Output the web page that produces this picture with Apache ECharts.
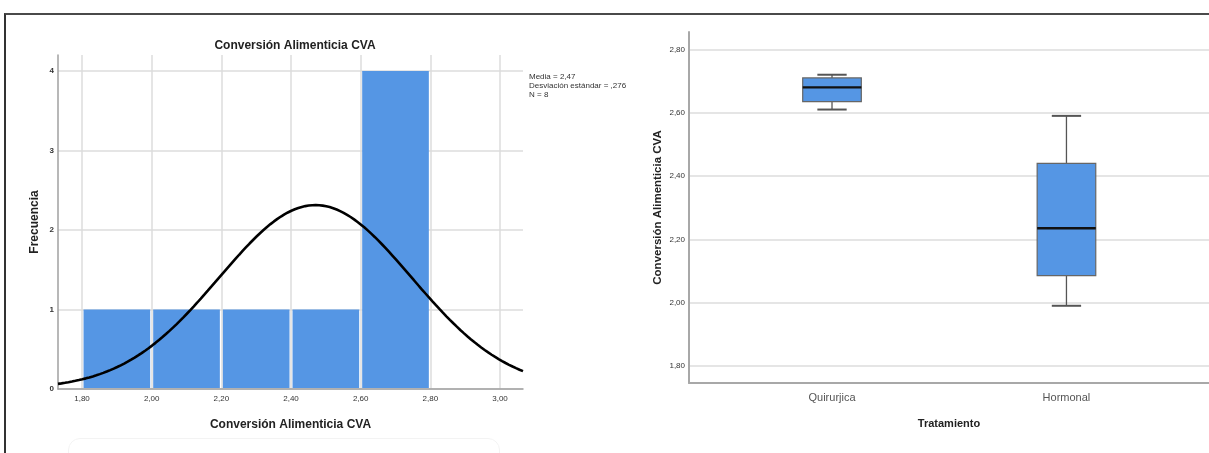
<!DOCTYPE html>
<html>
<head>
<meta charset="utf-8">
<script src="https://cdn.jsdelivr.net/npm/echarts@6/dist/echarts.min.js"></script>
<style>
  html, body { margin: 0; padding: 0; background: #fff; }
  #chart { position: absolute; left: 0; top: 0; width: 1209px; height: 453px; }
  #frame { position: absolute; left: 4px; top: 13px; width: 1210px; height: 450px;
           border-top: 2px solid #4a4a4a; border-left: 2px solid #333; pointer-events: none; }
  #card { position: absolute; left: 68px; top: 438px; width: 430px; height: 40px;
          border: 1px solid #f3f3f3; border-radius: 12px; pointer-events: none; }
</style>
</head>
<body>
<div id="chart"></div>
<div id="frame"></div>
<div id="card"></div>
<script>
// Histogram: bins of Conversión Alimenticia CVA
const binStarts = [1.80, 2.00, 2.20, 2.40, 2.60];
const binWidth = 0.20;
const frequencies = [1, 1, 1, 1, 4];
const histXTicks = [1.80, 2.00, 2.20, 2.40, 2.60, 2.80, 3.00];
const histYTicks = [0, 1, 2, 3, 4];

// Summary statistics printed beside the histogram
const media = 2.47;
const desviacion = 0.276;
const n = 8;

// Box plot by treatment
const categories = ['Quirurjica', 'Hormonal'];
const mins    = [2.61, 1.99];
const q1s     = [2.635, 2.085];
const medians = [2.68, 2.235];
const q3s     = [2.71, 2.44];
const maxs    = [2.72, 2.59];
const boxYTicks = [1.80, 2.00, 2.20, 2.40, 2.60, 2.80];

const comma = v => v.toFixed(2).replace('.', ',');
const tickFont = { fontFamily: 'Liberation Sans Narrow, Liberation Sans, Arial', fontSize: 8, color: '#333' };
const nameFont = { fontFamily: 'Liberation Sans, Arial', fontWeight: 'bold', fontSize: 12, color: '#222' };

// Normal density scaled to the histogram (N * bin width)
const xLo = 1.731, xHi = 3.066;
const curve = [];
for (let x = xLo; x <= xHi + 1e-9; x += 0.005) {
  const z = (x - media) / desviacion;
  curve.push([x, n * binWidth * Math.exp(-0.5 * z * z) / (desviacion * Math.sqrt(2 * Math.PI))]);
}

const bars = binStarts.map((s, i) => [s, s + binWidth, frequencies[i]]);
const boxes = categories.map((c, i) => [i, mins[i], q1s[i], medians[i], q3s[i], maxs[i]]);

const chart = echarts.init(document.getElementById('chart'), null, { renderer: 'canvas' });
chart.setOption({
  animation: false,
  title: {
    text: 'Conversión Alimenticia CVA',
    left: 290, top: 35, textAlign: 'center',
    textStyle: nameFont
  },
  graphic: [{
    type: 'text', left: 529, top: 72,
    style: {
      text: 'Media = ' + String(media).replace('.', ',') +
            '\nDesviación estándar = ' + String(desviacion).replace('0.', ',') +
            '\nN = ' + n,
      fontFamily: 'Liberation Sans Narrow, Liberation Sans, Arial', fontSize: 8, lineHeight: 9, fill: '#333'
    }
  }],
  grid: [
    { left: 58, right: 686, top: 55, bottom: 64 },
    { left: 689, right: 0, top: 32, bottom: 70 }
  ],
  xAxis: [{
    gridIndex: 0, type: 'value', min: xLo, max: xHi,
    name: 'Conversión Alimenticia CVA', nameLocation: 'middle', nameGap: 30, nameTextStyle: nameFont,
    axisLine: { show: true, onZero: false, lineStyle: { color: '#a0a0a0', width: 1.5 } },
    axisTick: { show: false, customValues: histXTicks },
    axisLabel: { customValues: histXTicks, formatter: comma, margin: 6, ...tickFont },
    splitLine: { show: true, lineStyle: { color: '#dcdcdc', width: 1.5 } }
  }, {
    gridIndex: 1, type: 'value', min: -0.61, max: 1.608,
    name: 'Tratamiento', nameLocation: 'middle', nameGap: 35,
    nameTextStyle: { ...nameFont, fontSize: 11 },
    axisLine: { show: true, onZero: false, lineStyle: { color: '#a8a8a8', width: 2 } },
    axisTick: { show: false, customValues: [0, 1] },
    axisLabel: { customValues: [0, 1], formatter: v => categories[Math.round(v)], margin: 9,
                 fontFamily: 'Liberation Sans Narrow, Liberation Sans, Arial', fontSize: 11, color: '#555' },
    splitLine: { show: false }
  }],
  yAxis: [{
    gridIndex: 0, type: 'value', min: 0, max: 4.2,
    name: 'Frecuencia', nameLocation: 'middle', nameGap: 17, nameRotate: 90, nameTextStyle: nameFont,
    axisLine: { show: true, onZero: false, lineStyle: { color: '#a0a0a0', width: 1.5 } },
    axisTick: { show: false, customValues: histYTicks },
    axisLabel: { customValues: histYTicks, margin: 4, ...tickFont, fontWeight: 'bold' },
    splitLine: { show: true, lineStyle: { color: '#dcdcdc', width: 1.5 } }
  }, {
    gridIndex: 1, type: 'value', min: 1.746, max: 2.855,
    name: 'Conversión Alimenticia CVA', nameLocation: 'middle', nameGap: 25, nameRotate: 90,
    nameTextStyle: { ...nameFont, fontSize: 11.5 },
    axisLine: { show: true, onZero: false, lineStyle: { color: '#a8a8a8', width: 2 } },
    axisTick: { show: false, customValues: boxYTicks },
    axisLabel: { customValues: boxYTicks, formatter: comma, margin: 4, ...tickFont },
    splitLine: { show: true, lineStyle: { color: '#dcdcdc', width: 1.5 } }
  }],
  series: [{
    type: 'custom', xAxisIndex: 0, yAxisIndex: 0, z: 2,
    data: bars,
    renderItem: (params, api) => {
      const p0 = api.coord([api.value(0), api.value(2)]);
      const p1 = api.coord([api.value(1), 0]);
      return {
        type: 'rect',
        shape: { x: p0[0] + 1.5, y: p0[1], width: p1[0] - p0[0] - 3, height: p1[1] - p0[1] - 1 },
        style: { fill: '#5596e4' }
      };
    }
  }, {
    type: 'line', xAxisIndex: 0, yAxisIndex: 0, z: 3,
    data: curve, showSymbol: false, smooth: false,
    lineStyle: { color: '#000', width: 2.6 }
  }, {
    type: 'custom', xAxisIndex: 1, yAxisIndex: 1, z: 3,
    data: boxes,
    renderItem: (params, api) => {
      const i = api.value(0);
      const lo = api.value(1), q1 = api.value(2), md = api.value(3), q3 = api.value(4), hi = api.value(5);
      const half = 0.125, cap = 0.0625;
      const c = (x, y) => api.coord([x, y]);
      const wStyle = { stroke: '#555', lineWidth: 1.3 };
      const tl = c(i - half, q3), br = c(i + half, q1);
      return {
        type: 'group',
        children: [
          { type: 'line', shape: { x1: c(i, hi)[0], y1: c(i, hi)[1], x2: c(i, q3)[0], y2: c(i, q3)[1] }, style: wStyle },
          { type: 'line', shape: { x1: c(i, q1)[0], y1: c(i, q1)[1], x2: c(i, lo)[0], y2: c(i, lo)[1] }, style: wStyle },
          { type: 'line', shape: { x1: c(i - cap, hi)[0], y1: c(i, hi)[1], x2: c(i + cap, hi)[0], y2: c(i, hi)[1] }, style: { stroke: '#555', lineWidth: 2 } },
          { type: 'line', shape: { x1: c(i - cap, lo)[0], y1: c(i, lo)[1], x2: c(i + cap, lo)[0], y2: c(i, lo)[1] }, style: { stroke: '#555', lineWidth: 2 } },
          { type: 'rect', shape: { x: tl[0], y: tl[1], width: br[0] - tl[0], height: br[1] - tl[1] },
            style: { fill: '#5596e4', stroke: '#666', lineWidth: 1.2 } },
          { type: 'line', shape: { x1: tl[0], y1: c(i, md)[1], x2: br[0], y2: c(i, md)[1] },
            style: { stroke: '#111', lineWidth: 2.4 } }
        ]
      };
    }
  }]
});
</script>
</body>
</html>
